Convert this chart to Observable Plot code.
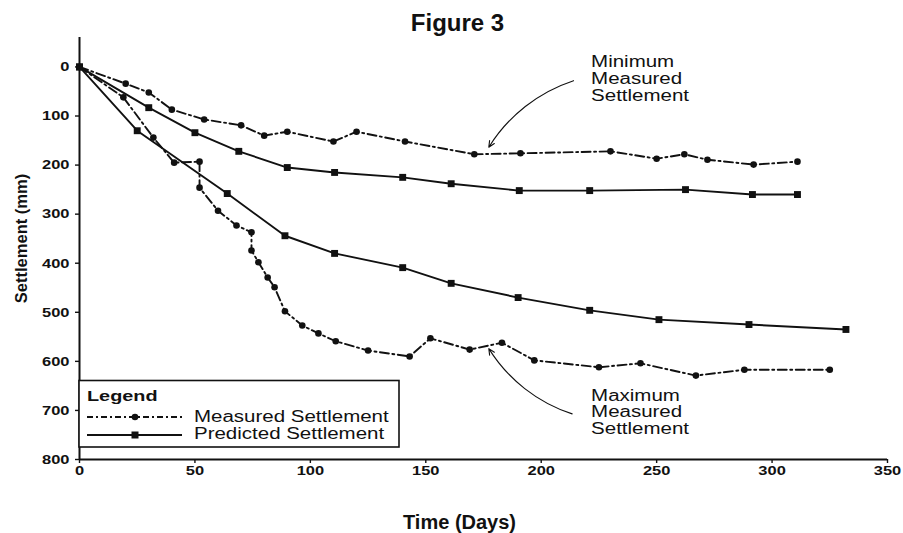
<!DOCTYPE html>
<html><head><meta charset="utf-8">
<script src="https://cdn.jsdelivr.net/npm/d3@7"></script>
<script src="https://cdn.jsdelivr.net/npm/@observablehq/plot@0.6"></script>
<style>
html,body{margin:0;padding:0;background:#fff;}
#chart svg{display:block;}
</style>
</head><body>
<div id="chart"></div>
<script>
// ---- data ----
const minMeasuredDays = [0, 20, 30, 40, 54, 70, 80, 90, 110, 120, 141, 171, 191, 230, 250, 262, 272, 292, 311];
const minMeasuredMM   = [0, 34, 52, 87, 107, 119, 140, 132, 152, 132, 152, 178, 176, 172, 187, 178, 189, 199, 193];

const maxMeasuredDays = [0, 19, 32, 41, 52, 52, 60, 68, 74.5, 74.5, 77.5, 81.5, 84.5, 89, 96.5, 103.5, 111, 125, 143, 152, 169, 183, 197, 225, 243, 267, 288, 325];
const maxMeasuredMM   = [0, 62, 144, 195, 193, 246, 293, 323, 337, 374, 398, 429, 449, 498, 527, 543, 559, 578, 590, 553, 576, 562, 598, 612, 604, 629, 617, 617];

const predUpperDays = [0, 30, 50, 69, 90, 110.5, 140, 161, 190.5, 221, 262.5, 291.5, 311];
const predUpperMM   = [0, 83, 134, 172, 205, 215, 225, 238, 252, 252, 250, 260, 260];

const predLowerDays = [0, 25, 64, 89, 110.5, 140, 161, 190, 221, 251, 290, 332];
const predLowerMM   = [0, 130, 258, 344, 380, 409, 441, 470, 496, 515, 525, 535];

const xTicks = [0, 50, 100, 150, 200, 250, 300, 350];
const yTicks = [0, 100, 200, 300, 400, 500, 600, 700, 800];

const titleText = "Figure 3";
const xLabelText = "Time (Days)";
const yLabelText = "Settlement (mm)";
const legendTitle = "Legend";
const legendLabels = ["Measured Settlement", "Predicted Settlement"];

const noteTexts = ["Minimum\nMeasured\nSettlement", "Maximum\nMeasured\nSettlement"];
const noteDays = [221.6, 221.6];
const noteMM = [-23, 656];
// arrows: [startDay, startMM, endDay, endMM]
const minArrow = [214, 28, 177.3, 163.5];
const maxArrow = [213.4, 707, 177.3, 574];

// ---- build rows ----
const rows = (days, mm) => days.map((d, i) => ({day: d, mm: mm[i]}));
const minRows = rows(minMeasuredDays, minMeasuredMM);
const maxRows = rows(maxMeasuredDays, maxMeasuredMM);
const upRows = rows(predUpperDays, predUpperMM);
const lowRows = rows(predLowerDays, predLowerMM);
const notes = noteTexts.map((t, i) => ({text: t, day: noteDays[i], mm: noteMM[i]}));

const ink = "#111";
const dash = "9,3.5,2,3.5";
const font = "'Liberation Sans', Arial, Helvetica, sans-serif";

const measuredLine = (data) => Plot.line(data, {x: "day", y: "mm", stroke: ink, strokeWidth: 1.9, strokeDasharray: dash});
const predictedLine = (data) => Plot.line(data, {x: "day", y: "mm", stroke: ink, strokeWidth: 1.9});
const circles = (data) => Plot.dot(data, {x: "day", y: "mm", r: 3.3, fill: ink, stroke: "none", symbol: "circle"});
const squares = (data) => Plot.dot(data, {x: "day", y: "mm", r: 3.9, fill: ink, stroke: "none", symbol: "square"});
const arrow = (a, bend) => Plot.arrow([a], {x1: d => d[0], y1: d => d[1], x2: d => d[2], y2: d => d[3], bend, stroke: ink, strokeWidth: 1.1, headLength: 9, headAngle: 50});

const chart = Plot.plot({
  width: 903,
  height: 533,
  marginLeft: 79,
  marginRight: 16,
  marginTop: 37,
  marginBottom: 74,
  style: {fontFamily: font, background: "#fff", color: ink, overflow: "visible"},
  x: {domain: [0, 350]},
  y: {domain: [800, -60]},
  marks: [
    Plot.axisX({ticks: xTicks, tickSize: 4, tickPadding: 2, label: null, fontSize: 13.5, fontWeight: "bold", strokeWidth: 1.4}),
    Plot.axisY({ticks: yTicks, tickSize: 4, tickPadding: 6, label: null, fontSize: 13.5, fontWeight: "bold", strokeWidth: 1.4}),
    Plot.ruleX([0], {stroke: ink, strokeWidth: 2}),
    Plot.ruleY([800], {stroke: ink, strokeWidth: 2}),
    measuredLine(minRows), circles(minRows),
    measuredLine(maxRows), circles(maxRows),
    predictedLine(upRows), squares(upRows),
    predictedLine(lowRows), squares(lowRows),
    arrow(minArrow, -20),
    arrow(maxArrow, 20),
    Plot.text(notes, {x: "day", y: "mm", text: "text", textAnchor: "start", lineAnchor: "top", lineHeight: 1.04, fontSize: 16, fill: ink}),
    Plot.text([titleText], {frameAnchor: "top", textAnchor: "middle", lineAnchor: "bottom", dx: -26, dy: -7, fontSize: 24, fontWeight: "bold", fill: ink}),
    Plot.text([xLabelText], {frameAnchor: "bottom", textAnchor: "middle", lineAnchor: "bottom", dx: -24, dy: 69, fontSize: 20, fontWeight: "bold", fill: ink}),
    Plot.text([yLabelText], {frameAnchor: "left", textAnchor: "middle", rotate: -90, lineAnchor: "middle", dx: -58, dy: -10, fontSize: 16.5, fontWeight: "bold", fill: ink})
  ]
});

document.getElementById("chart").appendChild(chart);

// ---- legend (layout drawn in pixel space) ----
const svg = d3.select(chart);
const lg = svg.append("g").attr("aria-label", "legend").attr("font-family", font).attr("fill", ink).attr("text-anchor", "start");
lg.append("rect").attr("x", 79).attr("y", 380.5).attr("width", 320).attr("height", 66.5)
  .attr("fill", "#fff").attr("stroke", ink).attr("stroke-width", 1.6);
lg.append("text").attr("x", 87).attr("y", 401).attr("font-size", 15.5).attr("font-weight", "bold").text(legendTitle);
lg.append("line").attr("x1", 87).attr("x2", 182).attr("y1", 417).attr("y2", 417).attr("stroke", ink).attr("stroke-width", 1.8).attr("stroke-dasharray", "6,3,2,3");
lg.append("circle").attr("cx", 135).attr("cy", 417).attr("r", 3.3).attr("fill", ink);
lg.append("line").attr("x1", 87).attr("x2", 182).attr("y1", 435).attr("y2", 435).attr("stroke", ink).attr("stroke-width", 1.8);
lg.append("rect").attr("x", 131.5).attr("y", 431.5).attr("width", 7).attr("height", 7).attr("fill", ink);
legendLabels.forEach((t, i) => {
  lg.append("text").attr("x", 194).attr("y", [422, 438.5][i]).attr("font-size", 16).text(t);
});

// ---- widen the scanned-looking lettering horizontally ----
function stretch(el, f) {
  const len = el.getComputedTextLength();
  if (len > 0) {
    el.setAttribute("textLength", (len * f).toFixed(2));
    el.setAttribute("lengthAdjust", "spacingAndGlyphs");
  }
}
const keep = new Set([titleText, xLabelText, yLabelText]);
chart.querySelectorAll("text").forEach(t => {
  if (keep.has(t.textContent)) return;
  const spans = t.querySelectorAll("tspan");
  const f = /^\d+$/.test(t.textContent.trim()) ? 1.22 : 1.28;
  if (spans.length) {
    // split multi-line text into separate text elements so each line can be widened
    const x = t.getAttribute("x"), y = t.getAttribute("y");
    spans.forEach(s => stretch(s, f));
  } else {
    stretch(t, f);
  }
});
</script>
</body></html>
